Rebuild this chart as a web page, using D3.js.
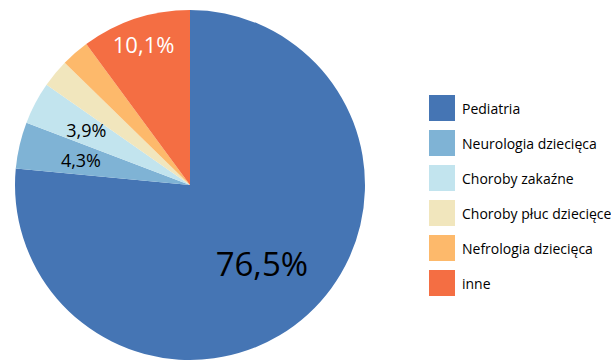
<!DOCTYPE html>
<html><head><meta charset="utf-8">
<script src="https://cdn.jsdelivr.net/npm/d3@7"></script>
<style>body{margin:0;background:#fff}svg{display:block}text{font-family:"Open Sans",sans-serif}</style>
</head><body><svg id="c" width="611" height="361"></svg>
<script>
const categories = ["Pediatria","Neurologia dziecięca","Choroby zakaźne","Choroby płuc dziecięce","Nefrologia dziecięca","inne"];
const values = [76.5, 4.3, 3.9, 2.6, 2.6, 10.1];
const colors = ["#4575b4","#7fb3d5","#c2e4ee","#f1e6bd","#fdb96b","#f46e43"];
const labelTexts = ["76,5%","4,3%","3,9%","","","10,1%"];

const svg = d3.select("#c");
const cx = 190, cy = 185, R = 175;
const g = svg.append("g").attr("transform", `translate(${cx},${cy})`);
const pie = d3.pie().sort(null).value(d => d);
const arcs = pie(values);
const arc = d3.arc().innerRadius(0).outerRadius(R);
g.selectAll("path").data(arcs).enter().append("path")
  .attr("d", arc).attr("fill", (d,i) => colors[i]);

const labelStyle = [
  {r:0.61, size:33, fill:"#000"},
  {r:0.64, size:18, fill:"#000"},
  {r:0.67, size:18, fill:"#000"},
  null, null,
  {r:0.85, size:22, fill:"#fff"}
];
arcs.forEach((a,i) => {
  const s = labelStyle[i];
  if (!s || !labelTexts[i]) return;
  const la = d3.arc().innerRadius(R*s.r).outerRadius(R*s.r);
  const [x,y] = la.centroid(a);
  g.append("text").attr("x", x).attr("y", y).attr("text-anchor","middle")
    .attr("dominant-baseline","central").attr("font-size", s.size).attr("fill", s.fill)
    .text(labelTexts[i]);
});

const leg = svg.append("g").attr("transform","translate(429,95)");
const y = d3.scaleBand().domain(categories).range([0, 35*categories.length]);
categories.forEach((c,i) => {
  leg.append("rect").attr("x",0).attr("y",y(c)).attr("width",26).attr("height",26).attr("fill",colors[i]);
  leg.append("text").attr("x",33).attr("y",y(c)+13).attr("dominant-baseline","central")
    .attr("font-size",14).attr("fill","#000").text(c);
});
</script></body></html>
